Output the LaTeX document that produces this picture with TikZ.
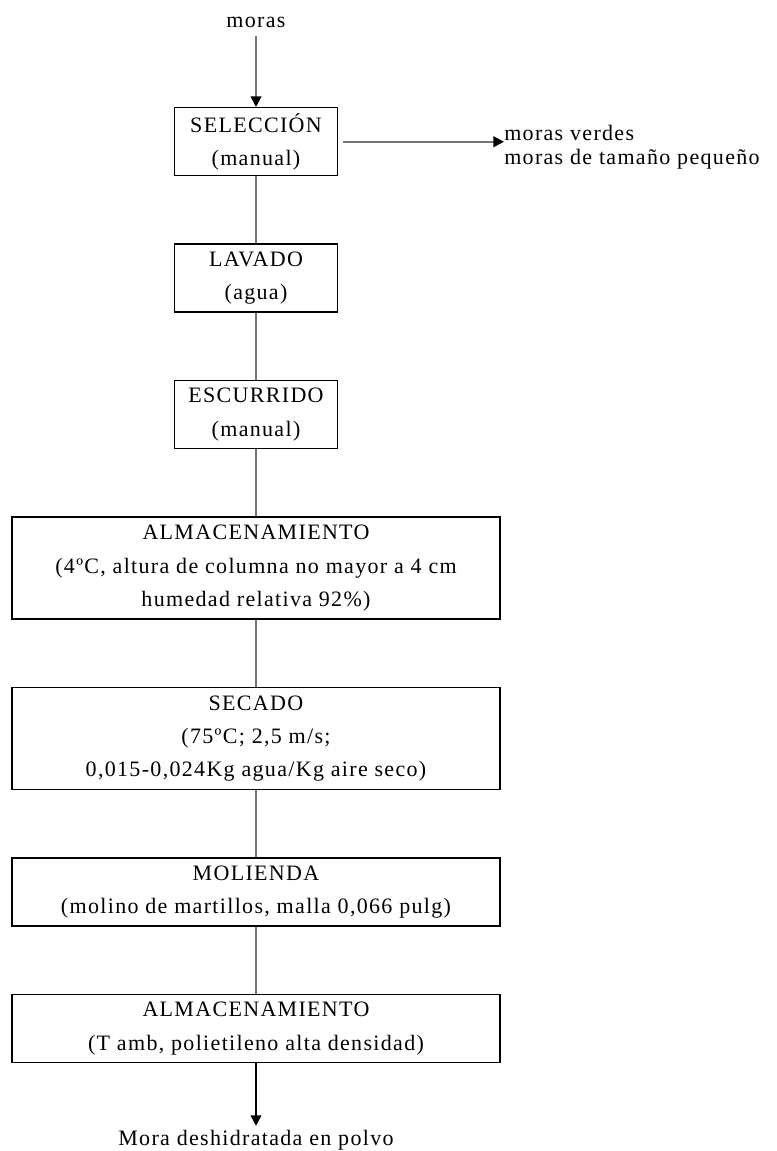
\documentclass[tikz,border=0pt]{standalone}
\usepackage{fontspec}
\setmainfont{Liberation Serif}[LetterSpace=6]
\usetikzlibrary{positioning, arrows.meta}

\begin{document}
\begin{tikzpicture}[x=0.75pt, y=-0.75pt, >={Triangle[length=8pt,width=8pt,black]}, font=\fontsize{16.5}{25}\selectfont]
\tikzstyle{stage box}=[draw, rectangle, line width=1.1pt, align=center, minimum width=122pt, minimum height=51pt, inner sep=2pt]
\tikzstyle{wide box}=[stage box, minimum width=366pt]
\tikzstyle{flow}=[draw=black!55, line width=1.5pt]

\useasboundingbox (0,0) rectangle (776,1151);

\node (moras) at (256,22) {moras};
\node[stage box, anchor=north] (sel) at (256,107) {SELECCIÓN\\(manual)};
\node[stage box, below=50.25pt of sel] (lav) {LAVADO\\(agua)};
\node[stage box, below=50.25pt of lav] (esc) {ESCURRIDO\\(manual)};
\node[wide box, minimum height=76.5pt, below=50.25pt of esc] (alm) {ALMACENAMIENTO\\(4ºC, altura de columna no mayor a 4 cm\\humedad relativa 92\%)};
\node[wide box, minimum height=76.5pt, below=50.25pt of alm] (sec) {SECADO\\(75ºC; 2,5 m/s;\\0,015-0,024Kg agua/Kg aire seco)};
\node[wide box, below=50.25pt of sec] (mol) {MOLIENDA\\(molino de martillos, malla 0,066 pulg)};
\node[wide box, below=50.25pt of mol] (almb) {ALMACENAMIENTO\\(T amb, polietileno alta densidad)};
\node[below=47pt of almb] (polvo) {Mora deshidratada en polvo};

% descarte
\node[anchor=west, align=left, inner sep=0pt, font=\fontsize{16.5}{18}\selectfont] (desc) at (504,147) {moras verdes\\moras de tamaño pequeño};

\draw[flow, ->] ([yshift=-3pt]moras.south) -- (sel);
\draw[flow, ->] ([xshift=4pt]sel.east) -- (sel.east -| desc.west);
\draw[flow] (sel) -- (lav);
\draw[flow] (lav) -- (esc);
\draw[flow] (esc) -- (alm);
\draw[flow] (alm) -- (sec);
\draw[flow] (sec) -- (mol);
\draw[flow] (mol) -- (almb);
\draw[->, line width=1.3pt] (almb) -- (polvo);
\end{tikzpicture}
\end{document}
